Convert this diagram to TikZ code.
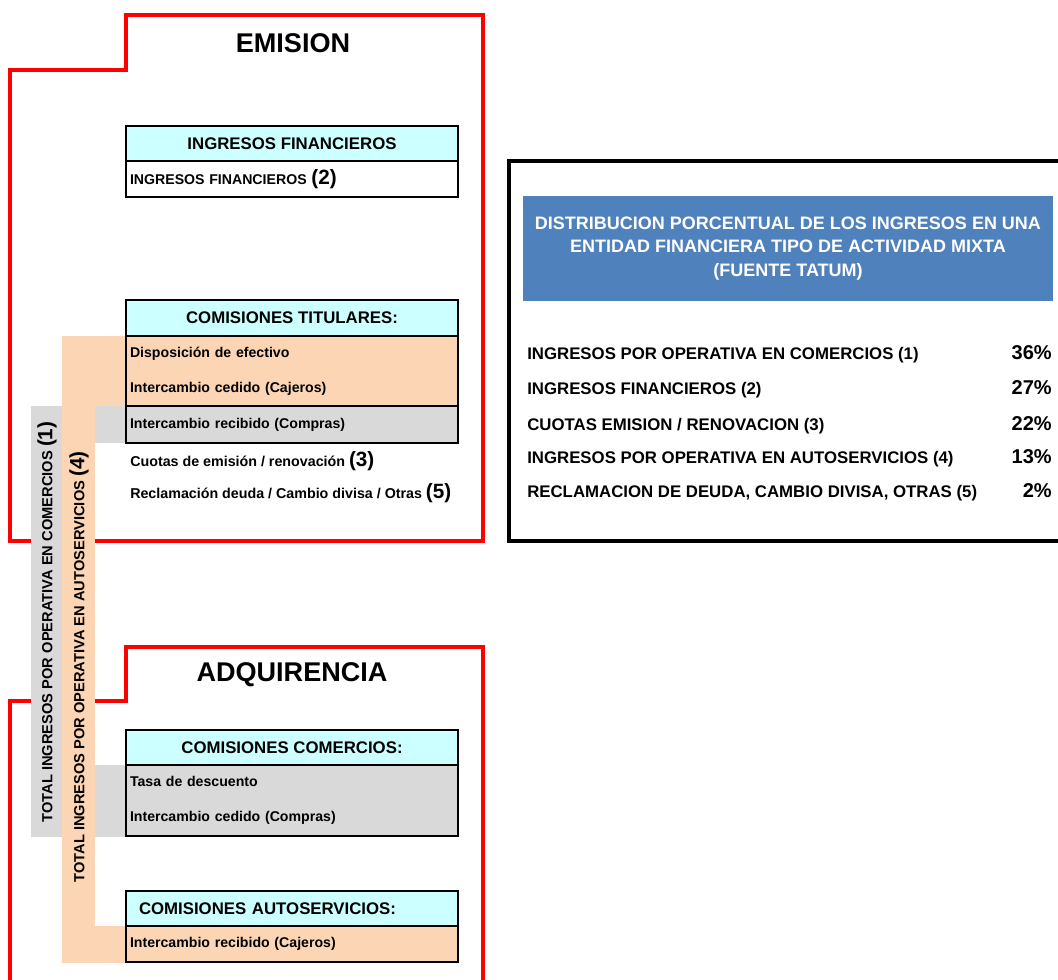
\documentclass[tikz,border=0pt]{standalone}
\usepackage{fontspec}
\setmainfont{Liberation Sans}
\usetikzlibrary{positioning}

\definecolor{celeste}{HTML}{CCFFFF}
\definecolor{salmon}{HTML}{FCD5B4}
\definecolor{gris}{HTML}{D9D9D9}
\definecolor{azul}{HTML}{4F81BD}

\newcommand{\cifra}[1]{{\fontsize{15.5}{18}\selectfont(#1)}}

\tikzset{
  marco/.style={draw=red, line width=2.6pt},
  titulo/.style={font=\fontsize{20.3}{24}\selectfont\bfseries},
  cabecera/.style={draw, line width=1.5pt, fill=celeste, minimum width=249pt,
    inner sep=0pt, outer sep=0pt, font=\fontsize{12.6}{15}\selectfont\bfseries},
  celda/.style={draw, line width=1.5pt, minimum width=249pt, text width=243pt,
    inner xsep=3pt, inner ysep=0pt, outer sep=0pt, align=left,
    font=\fontsize{10.6}{12}\selectfont\bfseries},
  suelto/.style={anchor=base west, inner sep=0pt, font=\fontsize{10.7}{12}\selectfont\bfseries},
  vertical/.style={rotate=90, inner sep=0pt, font=\fontsize{11}{13}\selectfont\bfseries},
  lista/.style={anchor=base west, inner sep=0pt, font=\fontsize{12.6}{15}\selectfont\bfseries},
  porcentaje/.style={anchor=base east, inner sep=0pt, font=\fontsize{15}{18}\selectfont\bfseries},
}

\begin{document}
\begin{tikzpicture}[x=0.75pt, y=-0.75pt]
    \useasboundingbox (0,0) rectangle (1058,980);

    % Marcos rojos
    \draw[marco] (10,541) -- (10,70) -- (126,70) -- (126,15) -- (483,15) -- (483,541) -- cycle;
    \draw[marco] (10,990) -- (10,701) -- (126,701) -- (126,647) -- (483,647) -- (483,990);

    % Bandas de totales
    \fill[gris] (31,406) rectangle (62,837);
    \fill[gris] (62,406) rectangle (126,443);
    \fill[gris] (62,765) rectangle (126,837);
    \fill[salmon] (62,336) rectangle (95,963);
    \fill[salmon] (95,336) rectangle (126,406);
    \fill[salmon] (95,926) rectangle (126,963);

    % Emision
    \node[titulo] (emision) at (293,43) {EMISION};

    \node[cabecera, minimum height=26.25pt] (finCab) at (292,143.5) {INGRESOS FINANCIEROS};
    \node[celda, minimum height=27pt, below=0pt of finCab] (finFila) {INGRESOS FINANCIEROS \cifra{2}};

    \node[cabecera, minimum height=27pt] (titCab) at (292,318) {COMISIONES TITULARES:};
    \node[celda, minimum height=52.5pt, fill=salmon, below=0pt of titCab] (titCajeros)
      {Disposición de efectivo\\[14.25pt]Intercambio cedido (Cajeros)};
    \node[celda, minimum height=27.75pt, fill=gris, below=0pt of titCajeros] (titCompras)
      {Intercambio recibido (Compras)};

    \node[suelto] (cuotas) at (130,467) {Cuotas de emisión / renovación \cifra{3}};
    \node[suelto] (otras) at (130,499) {Reclamación deuda / Cambio divisa / Otras \cifra{5}};

    % Adquirencia
    \node[titulo] (adquirencia) at (292,675) {ADQUIRENCIA};

    \node[cabecera, minimum height=26.25pt] (comCab) at (292,747.5) {COMISIONES COMERCIOS:};
    \node[celda, minimum height=53.25pt, fill=gris, below=0pt of comCab] (comFila)
      {Tasa de descuento\\[14.25pt]Intercambio cedido (Compras)};

    \node[cabecera, minimum height=26.25pt, text width=229.5pt, inner xsep=9.75pt, align=left]
      (autCab) at (292,908.5) {COMISIONES AUTOSERVICIOS:};
    \node[celda, minimum height=27pt, fill=salmon, below=0pt of autCab] (autFila)
      {Intercambio recibido (Cajeros)};

    % Textos verticales
    \node[vertical] (totalCom) at (47,622) {TOTAL INGRESOS POR OPERATIVA EN COMERCIOS \cifra{1}};
    \node[vertical] (totalAut) at (79,667) {TOTAL INGRESOS POR OPERATIVA EN AUTOSERVICIOS \cifra{4}};

    % Cuadro de distribucion
    \draw[line width=2.6pt] (1062,161) -- (509,161) -- (509,541) -- (1062,541);
    \node[fill=azul, text=white, minimum width=397.5pt, minimum height=78.75pt, align=center,
      font=\fontsize{13.5}{17.6}\selectfont\bfseries] (cabDist) at (788,248.5)
      {DISTRIBUCION PORCENTUAL DE LOS INGRESOS EN UNA\\ENTIDAD FINANCIERA TIPO DE ACTIVIDAD MIXTA\\(FUENTE TATUM)};

    \foreach \y/\txt/\pct in {360/{INGRESOS POR OPERATIVA EN COMERCIOS (1)}/36,
                              395/{INGRESOS FINANCIEROS (2)}/27,
                              431/{CUOTAS EMISION / RENOVACION (3)}/22,
                              464/{INGRESOS POR OPERATIVA EN AUTOSERVICIOS (4)}/13,
                              498/{RECLAMACION DE DEUDA, CAMBIO DIVISA, OTRAS (5)}/2}
    {
      \node[lista] (item\y) at (527,\y) {\txt};
      \node[porcentaje] (pct\y) at (1052,\y) {\pct\%};
    }
\end{tikzpicture}
\end{document}
